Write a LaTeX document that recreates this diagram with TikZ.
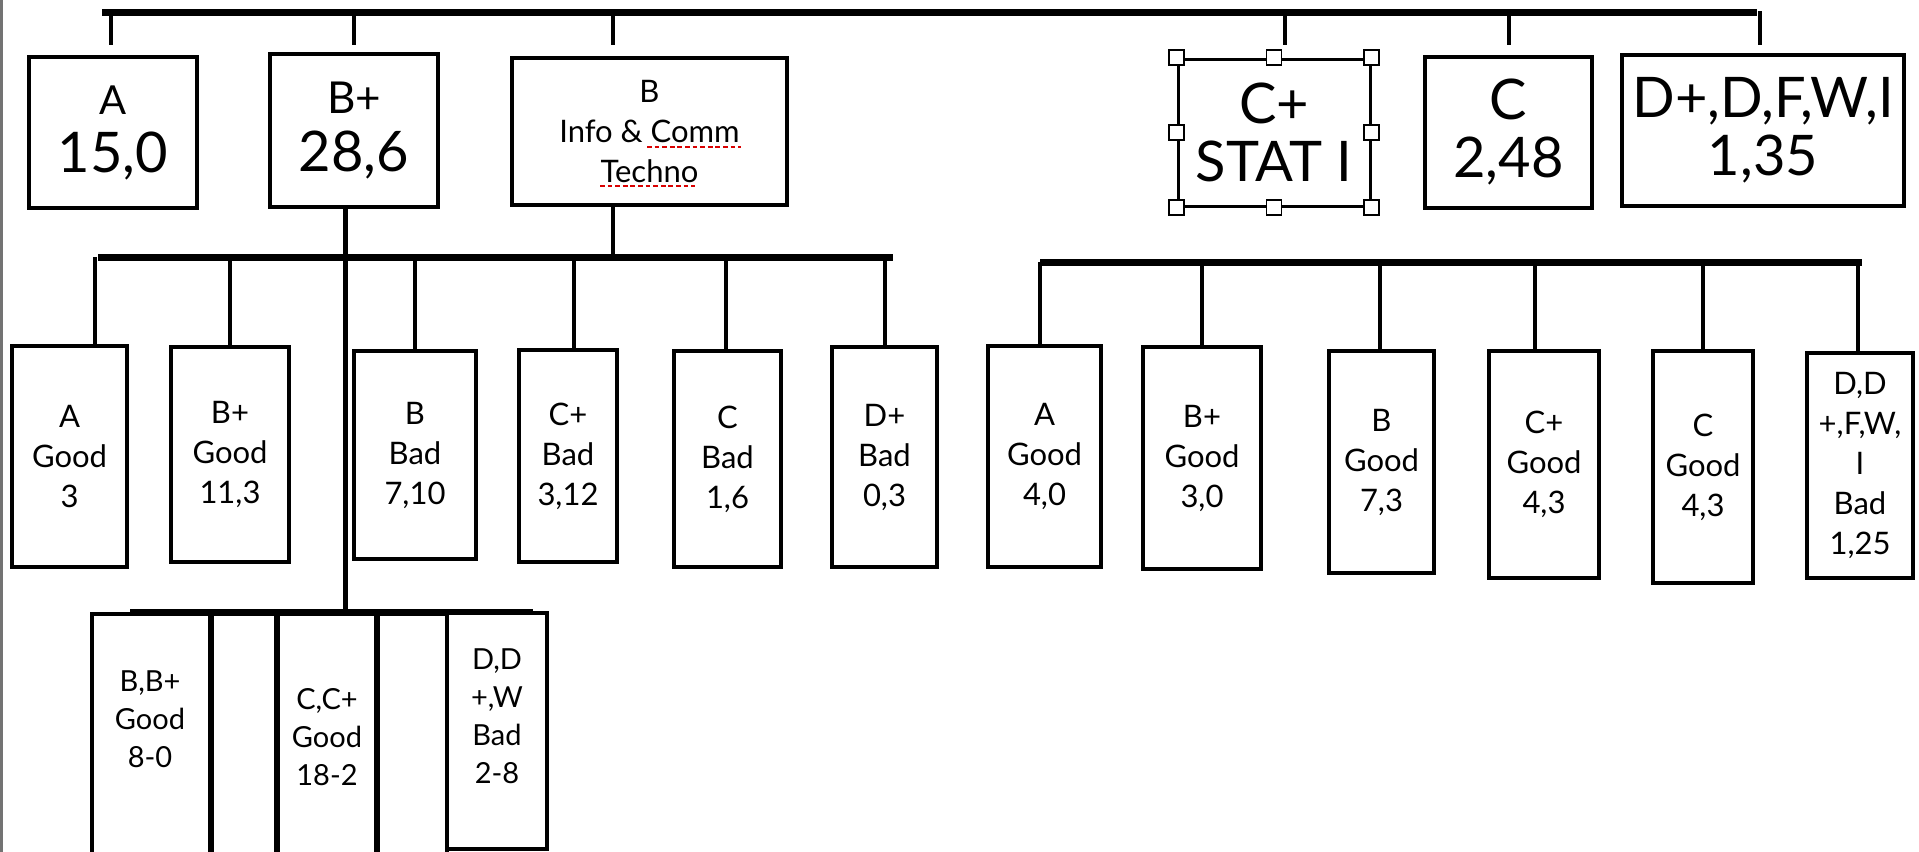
\documentclass[tikz,border=0pt]{standalone}
\usepackage{fontspec}
\setmainfont{Lato}
\begin{document}
\begin{tikzpicture}[x=0.5pt,y=-0.5pt,
  bar/.style={line width=3.5pt},
  drop/.style={line width=2.2pt},
  box/.style={draw,line width=2pt,inner sep=0pt,align=center},
  wh/.style 2 args={minimum width=#1*0.5pt,minimum height=#2*0.5pt},
  big/.style={font=\fontsize{28}{29}\selectfont},
  small/.style={font=\fontsize{15.5}{20}\selectfont},
  lowtext/.style={font=\fontsize{14.5}{19}\selectfont,align=center,inner sep=0pt},
  spellerr/.style={red!85!black,line width=1.3pt,dash pattern=on 2.4pt off 1.4pt},
  handle/.style={draw,fill=white,line width=0.8pt,minimum size=7.5pt,inner sep=0pt}]
\clip (0,0) rectangle (1919,852);
\fill[white] (0,0) rectangle (1919,852);
\fill[black!55] (0,0) rectangle (3,852);

% top level
\coordinate (T0) at (102,12);
\coordinate (T1) at (1757,12);
\draw[bar] (T0) -- (T1);
\foreach \x [count=\k] in {111,354,613,1285,1509,1760}{
  \coordinate (ta\k) at (\x,11);
  \coordinate (tb\k) at (\x,45);
  \draw[drop] (ta\k) -- (tb\k);
}
\node[box,big,wh={168}{151}] (tA) at (113,132.5) {{\fontsize{20}{24}\selectfont A}\\15,0};
\node[box,big,wh={168}{153}] (tBp) at (354,130.5) {{\fontsize{22}{24}\selectfont B+}\\28,6};
\node[box,small,wh={275}{147}] (tB) at (649.5,131.5) {B\\Info \& Comm\\Techno};
\draw[spellerr] (647,147) -- (741,147);
\draw[spellerr] (600,186) -- (695,186);
\node[box,big,line width=1.5pt,wh={192}{147}] (tCp) at (1274,132.5) {C+\\STAT I};
\node[box,big,wh={167}{151}] (tC) at (1508.5,132.5) {C\\2,48};
\node[box,big,wh={282}{151}] (tD) at (1763,130.5) {D+,D,F,W,I\\1,35};

% middle left group
\coordinate (M0) at (98,257);
\coordinate (M1) at (893,257);
\draw[bar] (M0) -- (M1);
\coordinate (mB) at (613,257);
\draw[drop] (tB.south -| mB) -- (mB);
\coordinate (kB) at (345,612);
\draw[line width=2.5pt] (tBp.south -| kB) -- (kB);

\node[box,small,wh={115}{221}] (l1) at (69.5,456.5) {A\\Good\\3};
\node[box,small,wh={118}{215}] (l2) at (230,454.5) {B+\\Good\\11,3};
\node[box,small,wh={122}{208}] (l3) at (415,455) {B\\Bad\\7,10};
\node[box,small,wh={98}{212}] (l4) at (568,456) {C+\\Bad\\3,12};
\node[box,small,wh={107}{216}] (l5) at (727.5,459) {C\\Bad\\1,6};
\node[box,small,wh={105}{220}] (l6) at (884.5,457) {D+\\Bad\\0,3};
\foreach \x/\n in {95/l1,230/l2,415/l3,574/l4,726/l5,885/l6}{
  \coordinate (m\n) at (\x,257);
  \draw[drop] (m\n) -- (m\n |- \n.north);
}

% middle right group
\coordinate (R0) at (1040,262);
\coordinate (R1) at (1862,262);
\draw[bar] (R0) -- (R1);
\node[box,small,wh={113}{221}] (r1) at (1044.5,456.5) {A\\Good\\4,0};
\node[box,small,wh={118}{222}] (r2) at (1202,458) {B+\\Good\\3,0};
\node[box,small,wh={105}{222}] (r3) at (1381.5,462) {B\\Good\\7,3};
\node[box,small,wh={110}{227}] (r4) at (1544,464.5) {C+\\Good\\4,3};
\node[box,small,wh={100}{232}] (r5) at (1703,467) {C\\Good\\4,3};
\node[box,small,wh={106}{225}] (r6) at (1860,465.5) {D,D\\+,F,W,\\I\\Bad\\1,25};
\foreach \x/\n in {1040/r1,1202/r2,1380/r3,1535/r4,1703/r5,1858/r6}{
  \coordinate (m\n) at (\x,262);
  \draw[drop] (m\n) -- (m\n |- \n.north);
}

% bottom group
\node[box,wh={118}{256}] (k1) at (151,742) {};
\node[box,wh={64}{256}] (k2) at (244,742) {};
\node[box,wh={98}{256}] (k3) at (327,742) {};
\node[box,wh={69}{256}] (k4) at (412.5,742) {};
\node[box,wh={100}{236}] (k5) at (497,731) {};
\coordinate (K0) at (130,612);
\coordinate (K1) at (533,612);
\draw[line width=3pt] (K0) -- (K1);
\node[lowtext] (k1t) at (150,719) {B,B+\\Good\\8-0};
\node[lowtext] (k3t) at (327,737) {C,C+\\Good\\18-2};
\node[lowtext] (k5t) at (497,716) {D,D\\+,W\\Bad\\2-8};

% selection handles
\foreach \a [count=\k] in {north west,north,north east,west,east,south west,south,south east}
  \node[handle] (h\k) at (tCp.\a) {};
\end{tikzpicture}
\end{document}
